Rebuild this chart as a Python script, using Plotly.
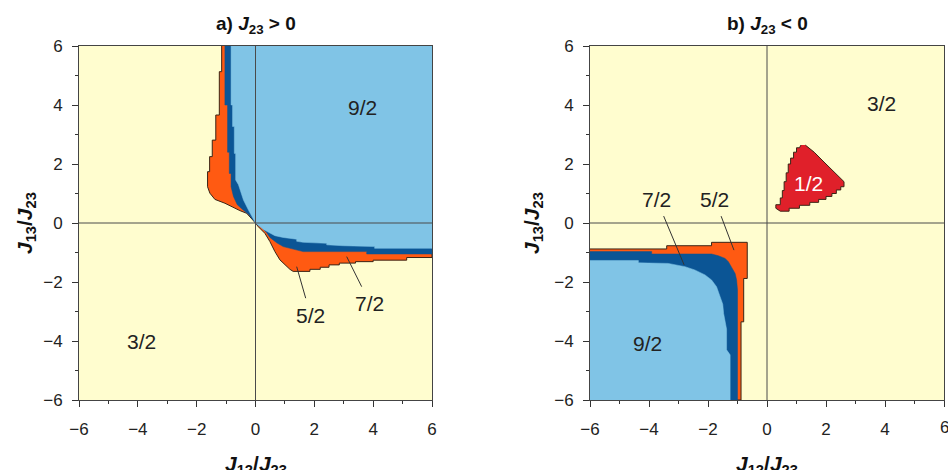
import plotly.graph_objects as go

# ---------------- Panel a) J23 > 0 : region boundaries (J12/J23, J13/J23) ----------------
# outer boundary of S = 5/2 region (everything enclosed is 5/2, 7/2 or 9/2)
A52_X = [-1.15, -1.15, -1.23, -1.23, -1.35, -1.35, -1.47, -1.47, -1.56, -1.56, -1.63, -1.63,
         -1.55, -1.38, -1.04, -0.755, -0.53, -0.30, -0.075, 0.0, 0.095, 0.32, 0.49, 0.66, 0.83,
         1.0, 1.17, 1.28, 1.85, 1.85, 2.2, 2.2, 2.5, 2.5, 2.85, 2.85, 3.4, 3.4, 4.0, 4.0,
         5.14, 5.14, 6.0, 6.0]
A52_Y = [6.0, 5.13, 5.13, 3.66, 3.66, 2.81, 2.81, 2.25, 2.25, 1.74, 1.74, 1.23,
         1.01, 0.80, 0.67, 0.52, 0.42, 0.33, 0.10, 0.0, -0.125, -0.35, -0.63, -0.97, -1.25,
         -1.42, -1.57, -1.64, -1.64, -1.57, -1.57, -1.50, -1.50, -1.42, -1.42, -1.36, -1.36, -1.31, -1.31, -1.26,
         -1.26, -1.17, -1.17, 6.0]
# outer boundary of S = 7/2 region
A72_X = [-1.04, -1.04, -0.95, -0.95, -0.89, -0.89, -0.83, -0.83, -0.75, -0.62, -0.42, -0.24,
         -0.08, 0.0, 0.2, 0.38, 0.49, 0.72, 0.94, 1.28, 1.62, 3.78, 3.78, 6.0, 6.0]
A72_Y = [6.0, 4.0, 4.0, 2.4, 2.4, 1.68, 1.68, 1.23, 0.9, 0.62, 0.44, 0.30,
         0.10, 0.0, -0.15, -0.33, -0.49, -0.67, -0.80, -0.89, -0.97, -0.97, -1.05, -1.05, 6.0]
# boundary of S = 9/2 region
A92_X = [-0.83, -0.83, -0.78, -0.78, -0.72, -0.72, -0.675, -0.675, -0.58, -0.50, -0.41, -0.24,
         -0.10, 0.0, 0.27, 0.66, 0.94, 1.40, 1.40, 1.62, 2.42, 2.42, 2.98, 4.05, 4.05, 6.0, 6.0]
A92_Y = [6.0, 4.0, 4.0, 3.27, 3.27, 2.36, 2.36, 1.46, 1.30, 1.05, 0.78, 0.44,
         0.15, 0.0, -0.22, -0.43, -0.49, -0.55, -0.62, -0.655, -0.69, -0.74, -0.77, -0.80, -0.86, -0.86, 6.0]

# ---------------- Panel b) J23 < 0 ----------------
B52_X = [-6.0, -3.40, -3.40, -1.88, -1.88, -0.67, -0.67, -0.79, -0.79, -0.88, -0.88, -6.0]
B52_Y = [-0.88, -0.88, -0.77, -0.77, -0.655, -0.655, -1.88, -1.88, -3.35, -3.35, -6.0, -6.0]
B72_X = [-6.0, -3.91, -3.91, -1.88, -1.65, -1.42, -1.31, -1.20, -1.08, -1.03, -1.0, -1.0, -6.0]
B72_Y = [-0.97, -0.97, -1.05, -1.05, -1.11, -1.20, -1.31, -1.48, -1.71, -1.93, -2.27, -6.0, -6.0]
B92_X = [-6.0, -4.36, -4.36, -3.35, -2.78, -2.45, -2.10, -1.88, -1.71, -1.60, -1.50, -1.47,
         -1.40, -1.37, -1.37, -1.25, -1.25, -6.0]
B92_Y = [-1.27, -1.27, -1.35, -1.37, -1.48, -1.59, -1.76, -1.93, -2.16, -2.44, -2.75, -3.07,
         -3.45, -3.60, -4.30, -4.47, -6.0, -6.0]
B12_X = [1.30, 1.6, 2.0, 2.35, 2.61, 2.61, 2.5, 2.5, 2.35, 2.35, 2.2, 2.2, 2.0, 2.0, 1.75,
         1.75, 1.45, 1.45, 1.1, 1.1, 0.75, 0.75, 0.45, 0.3, 0.3, 0.45, 0.45, 0.52, 0.52, 0.58,
         0.58, 0.65, 0.65, 0.72, 0.72, 0.8, 0.8, 0.9, 0.9, 1.0, 1.0, 1.1, 1.15]
B12_Y = [2.64, 2.4, 2.0, 1.65, 1.40, 1.23, 1.23, 1.12, 1.12, 1.0, 1.0, 0.9, 0.9, 0.8, 0.8,
         0.7, 0.7, 0.6, 0.6, 0.5, 0.5, 0.4, 0.4, 0.5, 0.62, 0.62, 0.85, 0.85, 1.1, 1.1,
         1.4, 1.4, 1.7, 1.7, 2.0, 2.0, 2.2, 2.2, 2.4, 2.4, 2.55, 2.55, 2.64]

# region labels: text, x, y
A_LABELS = [("9/2", 3.65, 3.9), ("3/2", -3.87, -4.02)]
B_LABELS = [("3/2", 3.87, 4.06), ("9/2", -4.06, -4.08)]
B_WHITE_LABELS = [("1/2", 1.42, 1.35)]
# leader labels: text, label x, label y, target x, target y
A_LEADERS = [("5/2", 1.87, -3.12, 1.40, -1.48), ("7/2", 3.89, -2.72, 3.10, -1.14)]
B_LEADERS = [("7/2", -3.74, 0.80, -2.81, -1.42), ("5/2", -1.77, 0.80, -1.12, -0.92)]

TICKS = [-6, -4, -2, 0, 2, 4, 6]
MINOR = [-5, -3, -1, 1, 3, 5]

YELLOW = "#FFFDCF"
LBLUE = "#80C4E6"
DBLUE = "#0B5595"
ORANGE = "#FF5A12"
RED = "#E0202A"
EDGE = "#3A2416"
FONT = "Liberation Sans, Arial, Helvetica, sans-serif"

fig = go.Figure()


def region(xs, ys, color, ax, line_color, lw):
    fig.add_trace(go.Scatter(
        x=xs, y=ys, fill="toself", fillcolor=color, mode="lines",
        line=dict(color=line_color, width=lw),
        xaxis="x" + ax, yaxis="y" + ax, hoverinfo="skip", showlegend=False))


region(A52_X, A52_Y, ORANGE, "", EDGE, 1)
region(A72_X, A72_Y, DBLUE, "", DBLUE, 0.5)
region(A92_X, A92_Y, LBLUE, "", LBLUE, 0.5)
region(B52_X, B52_Y, ORANGE, "2", EDGE, 1)
region(B72_X, B72_Y, DBLUE, "2", DBLUE, 0.5)
region(B92_X, B92_Y, LBLUE, "2", LBLUE, 0.5)
region(B12_X, B12_Y, RED, "2", EDGE, 1)

W, H = 948, 470
XA = [79 / W, 432 / W]
XB = [590 / W, 944 / W]
YD = [70 / H, 424 / H]
TICK_SIZE = 17

axis_common = dict(
    range=[-6, 6], autorange=False, tickvals=TICKS, ticks="outside", ticklen=6, tickwidth=1,
    tickcolor="#333", showline=True, linecolor="#444", linewidth=1, mirror=True,
    showgrid=False, zeroline=False, automargin=False,
    tickfont=dict(family=FONT, size=TICK_SIZE, color="#222"),
    minor=dict(tickvals=MINOR, ticks="outside", ticklen=3, tickcolor="#333", showgrid=False),
    fixedrange=True,
)
xaxis_common = dict(axis_common, ticklabelstandoff=8)
yaxis_common = dict(axis_common, ticklabelstandoff=6)

fig.update_layout(
    width=W, height=H, margin=dict(l=0, r=0, t=0, b=0, pad=0, autoexpand=False),
    paper_bgcolor="white", plot_bgcolor=YELLOW,
    font=dict(family=FONT, color="#222"),
    xaxis=dict(domain=XA, anchor="y", **xaxis_common),
    yaxis=dict(domain=YD, anchor="x", **yaxis_common),
    xaxis2=dict(domain=XB, anchor="y2", **xaxis_common),
    yaxis2=dict(domain=YD, anchor="x2", **yaxis_common),
)

# the last tick label of panel b sits on the page edge; plotly drops it, so draw it as text
fig.add_annotation(x=TICKS[-1], xref="x2", y=1 - 427 / H, yref="paper", text=str(TICKS[-1]),
                   showarrow=False, xanchor="center", yanchor="middle",
                   font=dict(family=FONT, size=TICK_SIZE, color="#222"))

# zero lines above the fills
for xr, yr in (("x", "y"), ("x2", "y2")):
    fig.add_shape(type="line", xref=xr, yref=yr + " domain", x0=0, x1=0, y0=0, y1=1,
                  line=dict(color="#4a4a4a", width=1), layer="above")
    fig.add_shape(type="line", xref=xr + " domain", yref=yr, x0=0, x1=1, y0=0, y1=0,
                  line=dict(color="#4a4a4a", width=1), layer="above")

LBL_FONT = dict(family=FONT, size=21, color="#222")
for t, x, y in A_LABELS:
    fig.add_annotation(x=x, y=y, xref="x", yref="y", text=t, showarrow=False, font=LBL_FONT)
for t, x, y in B_LABELS:
    fig.add_annotation(x=x, y=y, xref="x2", yref="y2", text=t, showarrow=False, font=LBL_FONT)
for t, x, y in B_WHITE_LABELS:
    fig.add_annotation(x=x, y=y, xref="x2", yref="y2", text=t, showarrow=False,
                       font=dict(family=FONT, size=21, color="white"))
for leaders, xr, yr in ((A_LEADERS, "x", "y"), (B_LEADERS, "x2", "y2")):
    for t, lx, ly, tx, ty in leaders:
        fig.add_annotation(x=tx, y=ty, xref=xr, yref=yr, ax=lx, ay=ly, axref=xr, ayref=yr,
                           text=t, showarrow=True, arrowhead=0, arrowwidth=1, arrowcolor="#333",
                           startstandoff=4, font=LBL_FONT)

# panel titles
TITLE_FONT = dict(family=FONT, size=19, color="#111")
fig.add_annotation(xref="paper", yref="paper", x=sum(XA) / 2, y=1 - 25 / H,
                   xanchor="center", yanchor="middle",
                   text="<b>a) <i>J</i><sub>23</sub> &gt; 0</b>", showarrow=False, font=TITLE_FONT)
fig.add_annotation(xref="paper", yref="paper", x=sum(XB) / 2, y=1 - 25 / H,
                   xanchor="center", yanchor="middle",
                   text="<b>b) <i>J</i><sub>23</sub> &lt; 0</b>", showarrow=False, font=TITLE_FONT)

# axis titles
AX_FONT = dict(family=FONT, size=21, color="#111")
XT = "<b><i>J</i><sub>12</sub>/<i>J</i><sub>23</sub></b>"
YT = "<b><i>J</i><sub>13</sub>/<i>J</i><sub>23</sub></b>"
for dom in (XA, XB):
    fig.add_annotation(xref="paper", yref="paper", x=sum(dom) / 2, y=1 - 465 / H,
                       xanchor="center", yanchor="middle", text=XT, showarrow=False, font=AX_FONT)
for px in (26, 533):
    fig.add_annotation(xref="paper", yref="paper", x=px / W, y=(H - 223) / H,
                       xanchor="center", yanchor="middle", textangle=-90,
                       text=YT, showarrow=False, font=AX_FONT)

fig.write_html("out.html")
